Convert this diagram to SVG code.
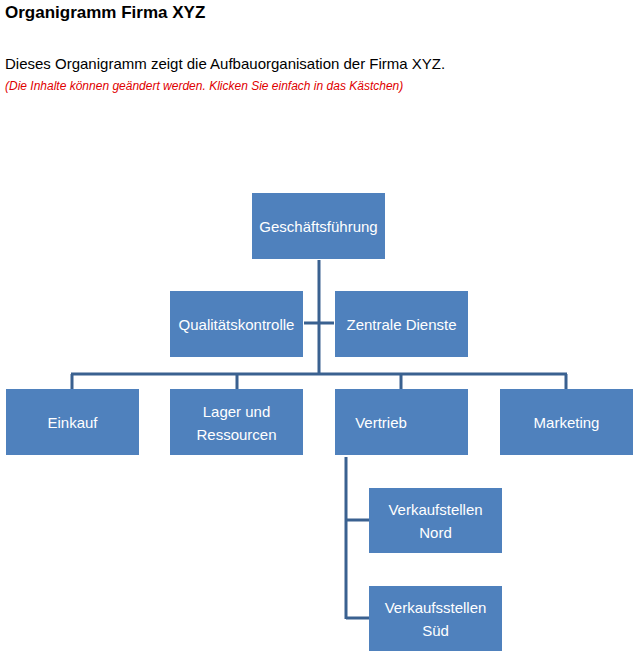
<svg xmlns="http://www.w3.org/2000/svg" width="634" height="655" viewBox="0 0 634 655">
<style>
.b{fill:#4f81bd}
.t{font-family:"Liberation Sans",Arial,sans-serif;font-size:15px;fill:#fff;text-anchor:middle}
.c{stroke:#3a6190;stroke-width:3;fill:none}
</style>
<rect width="634" height="655" fill="#fff"/>
<text x="5" y="18" font-family="Liberation Sans,Arial,sans-serif" font-size="17" font-weight="bold">Organigramm Firma XYZ</text>
<text x="5" y="69" font-family="Liberation Sans,Arial,sans-serif" font-size="15">Dieses Organigramm zeigt die Aufbauorganisation der Firma XYZ.</text>
<text x="5" y="90" font-family="Liberation Sans,Arial,sans-serif" font-size="12" font-style="italic" fill="#e00000">(Die Inhalte können geändert werden. Klicken Sie einfach in das Kästchen)</text>
<g id="connectors" class="c">
<path d="M319 260V374M304 323H334M71 374H567M72 374V389M237 374V389M401 374V389M566 374V389M346 457V619M346 520H369M346 618H369"/>
</g>
<g id="n1"><rect class="b" x="252" y="193" width="133" height="66"/><text class="t" x="318.5" y="232">Geschäftsführung</text></g>
<g id="n2"><rect class="b" x="170" y="291" width="133" height="66"/><text class="t" x="236.5" y="330">Qualitätskontrolle</text></g>
<g id="n3"><rect class="b" x="335" y="291" width="133" height="66"/><text class="t" x="401.5" y="330">Zentrale Dienste</text></g>
<g id="n4"><rect class="b" x="6" y="389" width="133" height="66"/><text class="t" x="72.5" y="428">Einkauf</text></g>
<g id="n5"><rect class="b" x="170" y="389" width="133" height="66"/><text class="t" x="236.5" y="417">Lager und</text><text class="t" x="236.5" y="440">Ressourcen</text></g>
<g id="n6"><rect class="b" x="335" y="389" width="133" height="66"/><text class="t" x="381" y="428">Vertrieb</text></g>
<g id="n7"><rect class="b" x="500" y="389" width="133" height="66"/><text class="t" x="566.5" y="428">Marketing</text></g>
<g id="n8"><rect class="b" x="369" y="488" width="133" height="65"/><text class="t" x="435.5" y="515">Verkaufstellen</text><text class="t" x="435.5" y="538">Nord</text></g>
<g id="n9"><rect class="b" x="369" y="586" width="133" height="65"/><text class="t" x="435.5" y="613">Verkaufsstellen</text><text class="t" x="435.5" y="636">Süd</text></g>
</svg>
